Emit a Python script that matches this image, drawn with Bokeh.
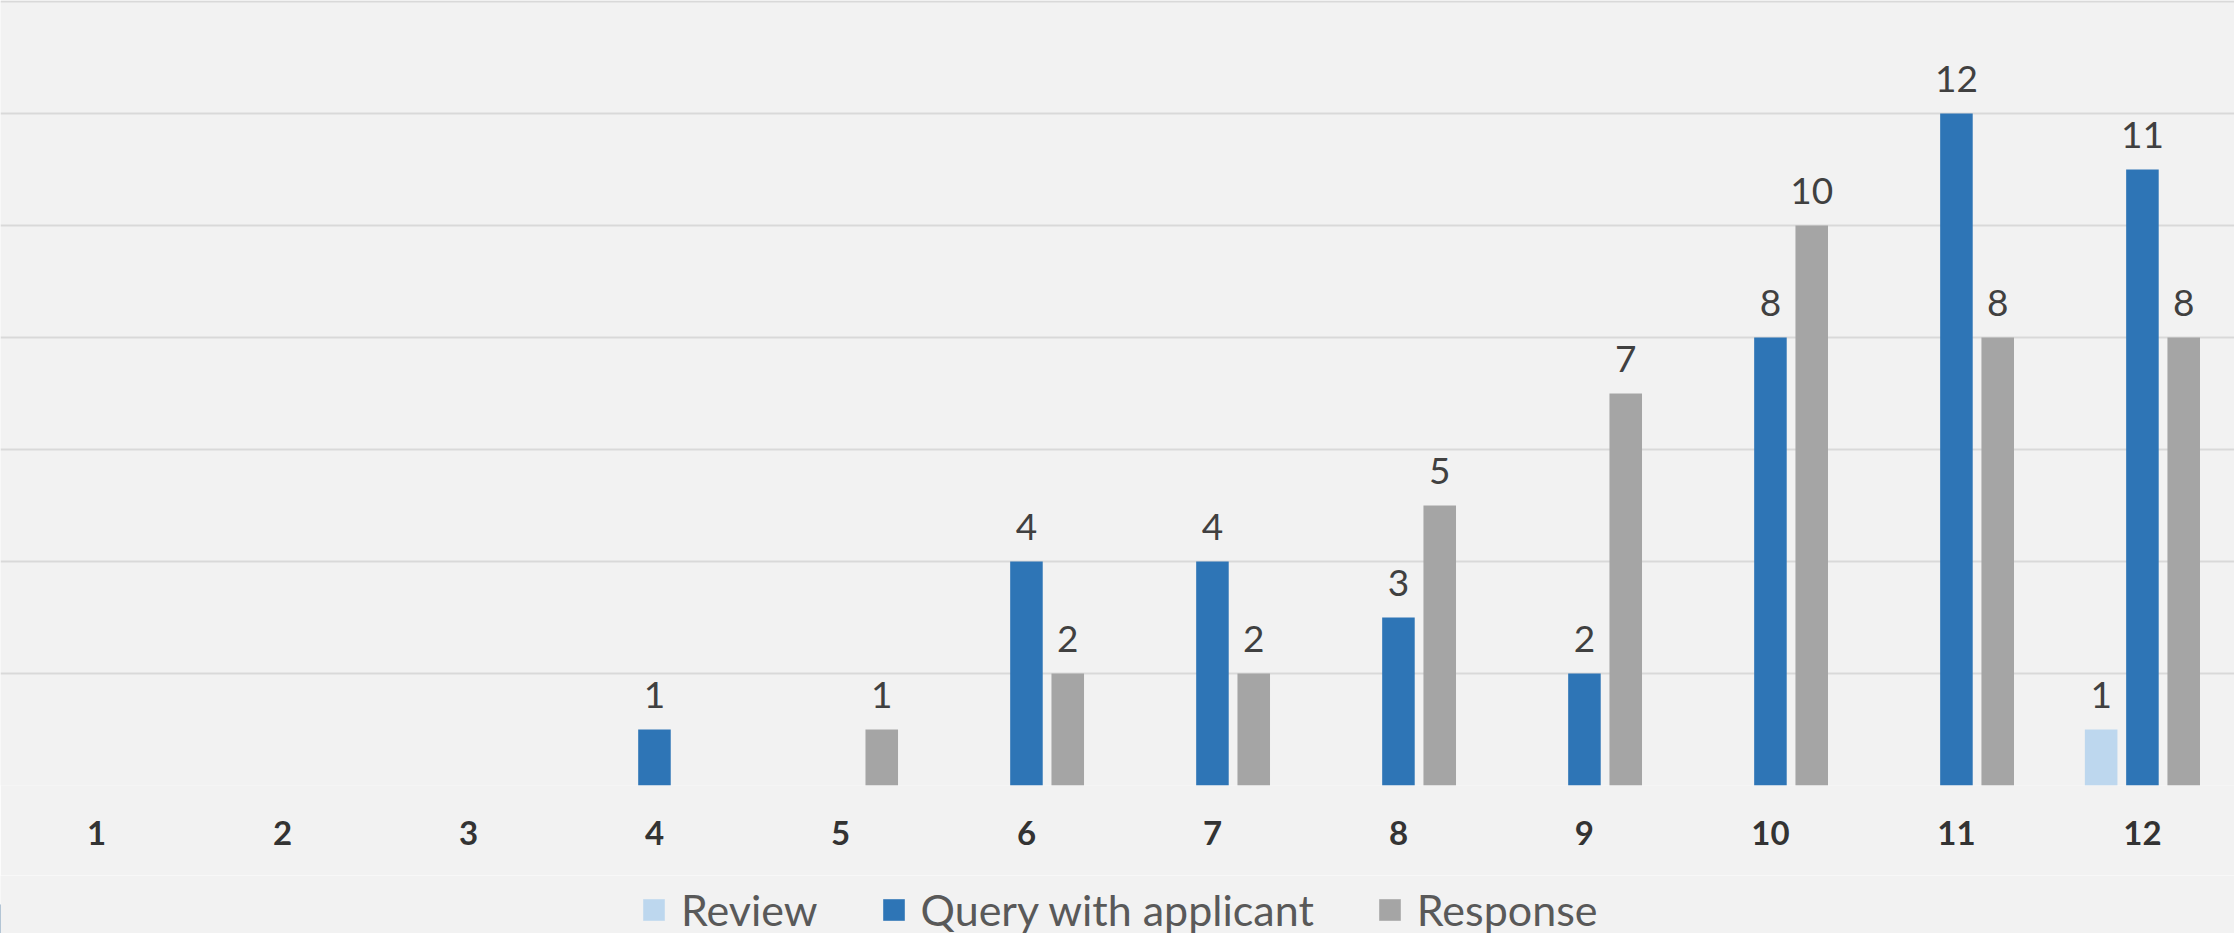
from bokeh.plotting import figure
from bokeh.layouts import column
from bokeh.models import (ColumnDataSource, FixedTicker, Legend, LegendItem, LabelSet, Range1d)
from bokeh.core.properties import value
from bokeh.transform import dodge
from bokeh.embed import file_html
from bokeh.resources import INLINE

categories = ["1", "2", "3", "4", "5", "6", "7", "8", "9", "10", "11", "12"]
review = [0, 0, 0, 0, 0, 0, 0, 0, 0, 0, 0, 1]
query = [0, 0, 0, 1, 0, 4, 4, 3, 2, 8, 12, 11]
response = [0, 0, 0, 0, 1, 2, 2, 5, 7, 10, 8, 8]
series_names = ["Review", "Query with applicant", "Response"]
colors = ["#BDD7EE", "#2E75B6", "#A5A5A5"]

x = list(range(1, len(categories) + 1))
src = ColumnDataSource(dict(x=x, review=review, query=query, response=response))

BG = "#F2F2F2"
p = figure(frame_width=2234, frame_height=785, output_backend="svg", toolbar_location=None,
           x_range=Range1d(0.484, 12.495), y_range=Range1d(0, 14.02),
           min_border_left=0, min_border_right=0, min_border_top=0, min_border_bottom=90)
p.background_fill_color = BG
p.border_fill_color = BG
p.outline_line_color = None

offsets = [-0.222, 0.0, 0.222]
fields = ["review", "query", "response"]
W = 0.175
for f, off, c in zip(fields, offsets, colors):
    p.vbar(x=dodge("x", off), top=f, width=W, source=src, fill_color=c, line_color=None)
    vals = src.data[f]
    lx = [xi for xi, v in zip(x, vals) if v != 0]
    ly = [v for v in vals if v != 0]
    lsrc = ColumnDataSource(dict(x=[xi + off for xi in lx], y=ly, t=[str(v) for v in ly]))
    p.add_layout(LabelSet(x="x", y="y", text="t", source=lsrc, y_offset=22,
                          text_align="center", text_baseline="alphabetic",
                          text_font=value("Lato"), text_font_size=value("37px"),
                          text_color="#404040"))

p.yaxis.visible = False
p.ygrid.ticker = FixedTicker(ticks=[0, 2, 4, 6, 8, 10, 12, 14])
p.ygrid.grid_line_color = "#D9D9D9"
p.ygrid.grid_line_width = 2
p.xgrid.visible = False

ax = p.xaxis[0]
ax.ticker = FixedTicker(ticks=x)
ax.major_label_overrides = {xi: c for xi, c in zip(x, categories)}
ax.axis_line_color = None
ax.major_tick_line_color = None
ax.minor_tick_line_color = None
ax.major_tick_out = 0
ax.major_tick_in = 0
ax.major_label_standoff = 35
ax.major_label_text_font = "Lato"
ax.major_label_text_font_style = "bold"
ax.major_label_text_font_size = "33px"
ax.major_label_text_color = "#333333"

# legend strip below the chart
lg = figure(width=2234, height=58, output_backend="svg", toolbar_location=None,
            x_range=Range1d(0, 1), y_range=Range1d(0, 1),
            x_axis_location=None, y_axis_location=None,
            min_border_left=0, min_border_right=0, min_border_top=0, min_border_bottom=0)
lg.background_fill_color = BG
lg.border_fill_color = BG
lg.outline_line_color = None
lg.grid.visible = False
proxies = [lg.vbar(x=[-5], top=[0.5], width=0.1, fill_color=c, line_color=None) for c in colors]
legend = Legend(items=[LegendItem(label=n, renderers=[r]) for n, r in zip(series_names, proxies)],
                orientation="horizontal", location=(640, -2),
                background_fill_alpha=0, border_line_color=None,
                glyph_width=27, glyph_height=27, label_standoff=14, spacing=62,
                label_text_font="Lato", label_text_font_size="43px", label_text_color="#595959",
                padding=0, margin=0)
lg.add_layout(legend, "center")

layout = column(p, lg, spacing=0)
open("out.html", "w").write(file_html(layout, INLINE))
